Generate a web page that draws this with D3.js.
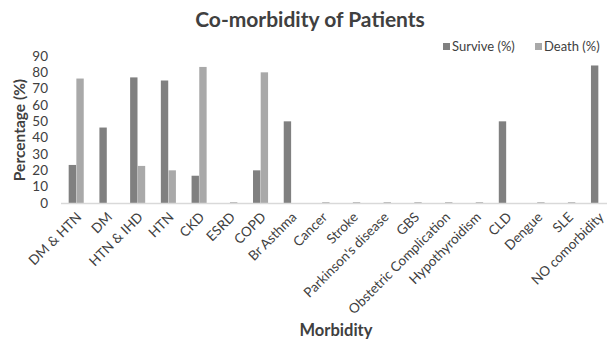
<!DOCTYPE html>
<html><head><meta charset="utf-8">
<script src="https://cdn.jsdelivr.net/npm/d3@7"></script>
<style>body{margin:0;background:#fff}svg{display:block;font-family:Lato,"Open Sans",sans-serif}</style>
</head><body><svg id="c" width="607" height="341"></svg>
<script>
const categories = ["DM & HTN","DM","HTN & IHD","HTN","CKD","ESRD","COPD","Br Asthma","Cancer","Stroke","Parkinson's disease","GBS","Obstetric Complication","Hypothyroidism","CLD","Dengue","SLE","NO comorbidity"];
const survive = [23.3, 46.2, 76.9, 75, 16.7, 0, 20, 50, 0, 0, 0, 0, 0, 0, 50, 0, 0, 84.2];
const death   = [76.2, 0, 22.7, 20, 83.3, 0.5, 80, 0, 0.5, 0.5, 0.5, 0.5, 0.5, 0.5, 0, 0.5, 0.5, 0];
const seriesNames = ["Survive (%)", "Death (%)"];
const seriesColors = ["#808080", "#a9a9a9"];
const yTicks = [0,10,20,30,40,50,60,70,80,90];

const svg = d3.select("#c");
const y = d3.scaleLinear().domain([0,90]).range([203,56]);
const x0 = d3.scaleBand().domain(categories).range([61,614]).padding(0);
const x1 = d3.scaleBand().domain(seriesNames).range([0,x0.bandwidth()]).paddingInner(0).paddingOuter(1);

// title
svg.append("text").attr("x",310).attr("y",27).attr("text-anchor","middle")
  .attr("font-size",21).attr("font-weight","bold").attr("fill","#404040").text("Co-morbidity of Patients");

// bars
const data = categories.map((c,i)=>({c, vals:[survive[i], death[i]]}));
const g = svg.append("g");
data.forEach(d=>{
  d.vals.forEach((v,j)=>{
    if(v<=0) return;
    g.append("rect").attr("x", x0(d.c)+x1(seriesNames[j])).attr("width", x1.bandwidth()-0.3)
      .attr("y", y(v)).attr("height", y(0)-y(v)).attr("fill", seriesColors[j]);
  });
});

// x axis line
svg.append("line").attr("x1",61).attr("x2",607).attr("y1",y(0)+0.5).attr("y2",y(0)+0.5)
  .attr("stroke","#d9d9d9").attr("stroke-width",1.5);

// y axis
const yAxis = svg.append("g").attr("transform","translate(52,0)")
  .call(d3.axisLeft(y).tickValues(yTicks).tickSize(0).tickPadding(4));
yAxis.select(".domain").remove();
yAxis.selectAll("text").attr("font-size",13.5).attr("fill","#404040").attr("font-family","Lato,sans-serif");

// x axis labels
const xAxis = svg.append("g").attr("transform",`translate(0,${y(0)})`)
  .call(d3.axisBottom(x0).tickSize(0).tickPadding(0));
xAxis.select(".domain").remove();
xAxis.selectAll("text").attr("font-size",13.5).attr("fill","#404040").attr("font-family","Lato,sans-serif")
  .attr("text-anchor","end").attr("dy",0)
  .attr("transform","translate(6,15) rotate(-45)");

// axis titles
svg.append("text").attr("transform","translate(25,130) rotate(-90)").attr("text-anchor","middle")
  .attr("font-size",15.5).attr("font-weight","bold").attr("fill","#404040").text("Percentage (%)");
svg.append("text").attr("x",336).attr("y",336).attr("text-anchor","middle")
  .attr("font-size",16.5).attr("font-weight","bold").attr("fill","#404040").text("Morbidity");

// legend
const legX = [443, 535];
seriesNames.forEach((s,j)=>{
  svg.append("rect").attr("x",legX[j]).attr("y",43).attr("width",7).attr("height",7).attr("fill",seriesColors[j]);
  svg.append("text").attr("x",legX[j]+9).attr("y",50.5).attr("font-size",13).attr("fill","#404040").text(s);
});
</script></body></html>
